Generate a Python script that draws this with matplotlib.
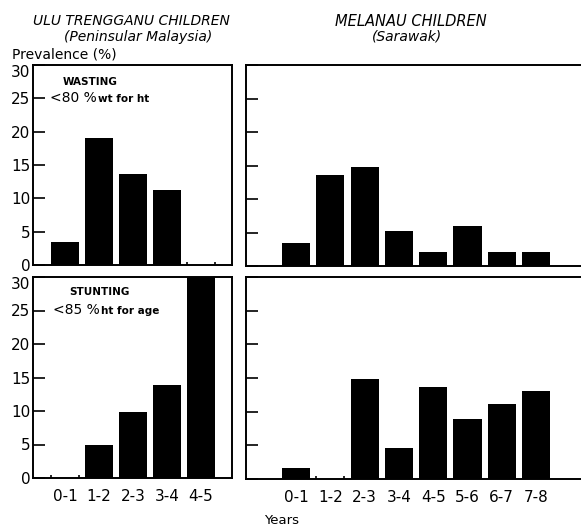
import matplotlib.pyplot as plt

# data (prevalence, %)
ulu_ages = ['0-1', '1-2', '2-3', '3-4', '4-5']
ulu_wasting = [3.5, 19.0, 13.6, 11.2, 0.0]
ulu_stunting = [0.0, 4.9, 9.8, 13.9, 30.0]

mel_ages = ['0-1', '1-2', '2-3', '3-4', '4-5', '5-6', '6-7', '7-8']
mel_wasting = [3.5, 13.6, 14.8, 5.2, 2.1, 6.0, 2.1, 2.1]
mel_stunting = [1.6, 0.0, 14.8, 4.6, 13.6, 8.9, 11.1, 13.1]

yticks = [0, 5, 10, 15, 20, 25, 30]

W, H = 581, 526
fig = plt.figure(figsize=(W / 100, H / 100), dpi=100)


def px_axes(x0, y0, x1, y1):
    return fig.add_axes([x0 / W, 1 - y1 / H, (x1 - x0) / W, (y1 - y0) / H])


def draw_panel(ax, ages, vals, xlim, show_ylabels, show_xlabels):
    x = list(range(len(ages)))
    width = 0.82
    ax.bar(x, vals, width=width, color='black', edgecolor='none')
    # small marks at the bar edges where the value is zero
    for xi, v in zip(x, vals):
        if v == 0:
            ax.vlines([xi - width / 2, xi + width / 2], 0, 0.5, color='black', lw=1.2)
    ax.set_xlim(*xlim)
    ax.set_ylim(0, 30)
    ax.set_yticks(yticks)
    ax.tick_params(axis='y', direction='in', length=8.5, width=1.2, pad=2,
                   labelsize=11, labelleft=show_ylabels)
    if show_ylabels:
        # top label sits just under the frame, as in the original
        ax.get_yticklabels()[-1].set_va('top')
    ax.set_xticks(x)
    ax.tick_params(axis='x', length=0, pad=8, labelsize=11, labelbottom=show_xlabels)
    if show_xlabels:
        ax.set_xticklabels(ages)
    for s in ax.spines.values():
        s.set_linewidth(1.4)


ax1 = px_axes(33, 65, 232, 265)
ax2 = px_axes(246, 65, 581, 266)
ax3 = px_axes(33, 277, 232, 478)
ax4 = px_axes(246, 277, 581, 479)

draw_panel(ax1, ulu_ages, ulu_wasting, (-0.94, 4.91), True, False)
draw_panel(ax3, ulu_ages, ulu_stunting, (-0.94, 4.91), True, True)
draw_panel(ax2, mel_ages, mel_wasting, (-1.46, 8.31), False, False)
draw_panel(ax4, mel_ages, mel_stunting, (-1.46, 8.31), False, True)
for ax in (ax2, ax4):
    ax.spines['right'].set_visible(False)

# panel annotations
tr1 = ax1.get_yaxis_transform()
ax1.text(0.15, 27.5, 'WASTING', transform=tr1, fontsize=7.5, fontweight='bold',
         va='center', ha='left')
t = ax1.text(0.085, 25, '<80 %', transform=tr1, fontsize=10, va='center', ha='left')
ax1.annotate('wt for ht', xy=(1, 0.45), xycoords=t, xytext=(1, 0),
             textcoords='offset points', fontsize=7.5, fontweight='bold', va='center')

tr3 = ax3.get_yaxis_transform()
ax3.text(0.18, 27.7, 'STUNTING', transform=tr3, fontsize=7.5, fontweight='bold',
         va='center', ha='left')
t = ax3.text(0.10, 25, '<85 %', transform=tr3, fontsize=10, va='center', ha='left')
ax3.annotate('ht for age', xy=(1, 0.45), xycoords=t, xytext=(1, 0),
             textcoords='offset points', fontsize=7.5, fontweight='bold', va='center')

# headings
fig.text(131 / W, 1 - 21 / H, 'ULU TRENGGANU CHILDREN', fontsize=10, style='italic',
         ha='center', va='center')
fig.text(138 / W, 1 - 37 / H, '(Peninsular Malaysia)', fontsize=10, style='italic',
         ha='center', va='center')
fig.text(411 / W, 1 - 21 / H, 'MELANAU CHILDREN', fontsize=10.5, style='italic',
         ha='center', va='center')
fig.text(407 / W, 1 - 37 / H, '(Sarawak)', fontsize=10, style='italic',
         ha='center', va='center')
fig.text(12 / W, 1 - 55 / H, 'Prevalence (%)', fontsize=10, ha='left', va='center')
fig.text(282 / W, 1 - 521 / H, 'Years', fontsize=9.5, ha='center', va='center')

fig.savefig('out.png', dpi=100)
